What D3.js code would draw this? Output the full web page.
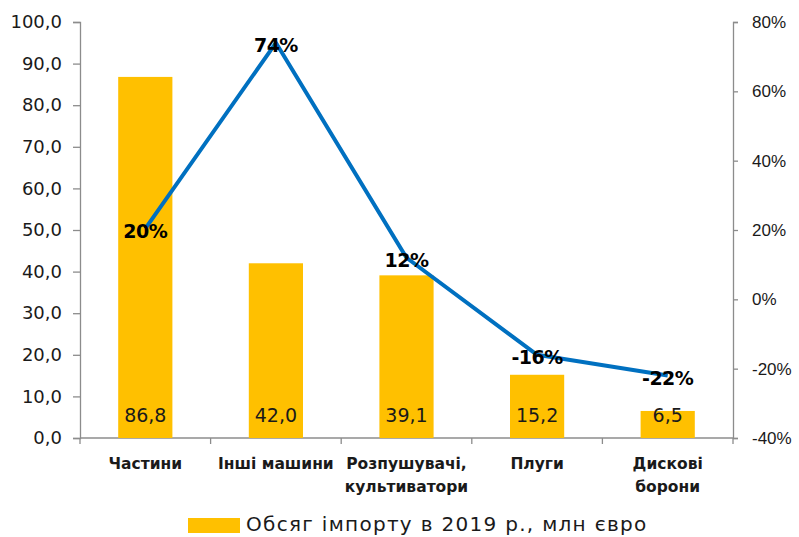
<!DOCTYPE html>
<html>
<head>
<meta charset="utf-8">
<script src="https://cdn.jsdelivr.net/npm/d3@7"></script>
<style>
  body { margin: 0; background: #fff; }
  svg { display: block; }
</style>
</head>
<body>
<div id="chart"></div>
<script>
// data
const categories = [["Частини"], ["Інші машини"], ["Розпушувачі,", "культиватори"], ["Плуги"], ["Дискові", "борони"]];
const importVals = [86.8, 42.0, 39.1, 15.2, 6.5];
const changeVals = [0.204, 0.74, 0.12, -0.16, -0.22];
const leftTicks = [0, 10, 20, 30, 40, 50, 60, 70, 80, 90, 100];
const rightTicks = [-0.4, -0.2, 0, 0.2, 0.4, 0.6, 0.8];
const legendLabel = "Обсяг імпорту в 2019 р., млн євро";

const width = 799, height = 537;
const plotL = 80, plotR = 733, plotT = 22, plotB = 438;

const svg = d3.select("#chart").append("svg")
  .attr("width", width)
  .attr("height", height);

const x = d3.scaleBand()
  .domain(d3.range(categories.length))
  .range([plotL, plotR])
  .paddingInner(0).paddingOuter(0);

const y = d3.scaleLinear().domain([0, 100]).range([plotB, plotT]);
const y2 = d3.scaleLinear().domain([-0.4, 0.8]).range([plotB, plotT]);

const fmt = d => d.toFixed(1).replace(".", ",");
const pct = d => d3.format(".0%")(d).replace("−", "-");
const axisColor = "#8c8c8c";

// left axis
const gL = svg.append("g")
  .attr("transform", `translate(${plotL},0)`)
  .call(d3.axisLeft(y).tickValues(leftTicks).tickSize(7).tickPadding(11).tickFormat(fmt));
gL.select(".domain").attr("stroke", axisColor).attr("stroke-width", 1.3);
gL.selectAll(".tick line").attr("stroke", axisColor).attr("stroke-width", 1.3);
gL.selectAll("text")
  .attr("fill", "#1a1a1a")
  .style("font-family", "'DejaVu Sans', sans-serif")
  .style("font-size", "18px");

// right axis
const gR = svg.append("g")
  .attr("transform", `translate(${plotR},0)`)
  .call(d3.axisRight(y2).tickValues(rightTicks).tickSize(5).tickPadding(14).tickFormat(pct));
gR.select(".domain").attr("stroke", axisColor).attr("stroke-width", 1.3);
gR.selectAll(".tick line").attr("stroke", axisColor).attr("stroke-width", 1.3);
gR.selectAll("text")
  .attr("fill", "#1a1a1a")
  .style("font-family", "'Liberation Sans', Arial, sans-serif")
  .style("font-size", "17px");

// x axis line and ticks
const xLine = svg.append("g");
xLine.append("line")
  .attr("x1", plotL).attr("x2", plotR)
  .attr("y1", plotB).attr("y2", plotB)
  .attr("stroke", axisColor).attr("stroke-width", 1.3);
xLine.selectAll("line.t")
  .data(d3.range(categories.length + 1))
  .join("line")
  .attr("class", "t")
  .attr("x1", i => plotL + i * x.bandwidth())
  .attr("x2", i => plotL + i * x.bandwidth())
  .attr("y1", plotB).attr("y2", plotB + 6)
  .attr("stroke", axisColor).attr("stroke-width", 1.3);

// bars
const barW = x.bandwidth() * 0.415;
svg.append("g").selectAll("rect")
  .data(importVals)
  .join("rect")
  .attr("x", (d, i) => x(i) + x.bandwidth() / 2 - barW / 2)
  .attr("y", d => y(d))
  .attr("width", barW)
  .attr("height", d => plotB - y(d))
  .attr("fill", "#FFC000");

// bar value labels
svg.append("g").selectAll("text")
  .data(importVals)
  .join("text")
  .attr("x", (d, i) => x(i) + x.bandwidth() / 2)
  .attr("y", plotB - 16)
  .attr("text-anchor", "middle")
  .style("font-family", "'DejaVu Sans', sans-serif")
  .style("font-size", "19px")
  .attr("fill", "#1a1a1a")
  .text(d => fmt(d));

// line
const line = d3.line()
  .x((d, i) => x(i) + x.bandwidth() / 2)
  .y(d => y2(d));
svg.append("path")
  .datum(changeVals)
  .attr("d", line)
  .attr("fill", "none")
  .attr("stroke", "#0070C0")
  .attr("stroke-width", 4)
  .attr("stroke-linejoin", "round");

// percent labels
svg.append("g").selectAll("text")
  .data(changeVals)
  .join("text")
  .attr("x", (d, i) => x(i) + x.bandwidth() / 2)
  .attr("y", d => y2(d) + 9)
  .attr("text-anchor", "middle")
  .style("font-family", "'DejaVu Sans', sans-serif")
  .style("font-size", "19px")
  .style("font-weight", "bold")
  .style("letter-spacing", "-0.5px")
  .attr("fill", "#000")
  .text(d => pct(d));

// category labels
const catG = svg.append("g").selectAll("text")
  .data(categories)
  .join("text")
  .attr("x", (d, i) => x(i) + x.bandwidth() / 2)
  .attr("y", 469)
  .attr("text-anchor", "middle")
  .style("font-family", "'DejaVu Sans', sans-serif")
  .style("font-size", "15.5px")
  .style("font-weight", "bold")
  .attr("fill", "#1a1a1a");
catG.selectAll("tspan")
  .data(d => d)
  .join("tspan")
  .attr("x", function () { return d3.select(this.parentNode).attr("x"); })
  .attr("dy", (d, i) => i === 0 ? 0 : 23)
  .text(d => d);

// legend
svg.append("rect")
  .attr("x", 188).attr("y", 518)
  .attr("width", 52).attr("height", 15)
  .attr("fill", "#FFC000");
svg.append("text")
  .attr("x", 246).attr("y", 531)
  .style("font-family", "'DejaVu Sans', sans-serif")
  .style("font-size", "20px")
  .style("letter-spacing", "1.3px")
  .attr("fill", "#1a1a1a")
  .text(legendLabel);
</script>
</body>
</html>
